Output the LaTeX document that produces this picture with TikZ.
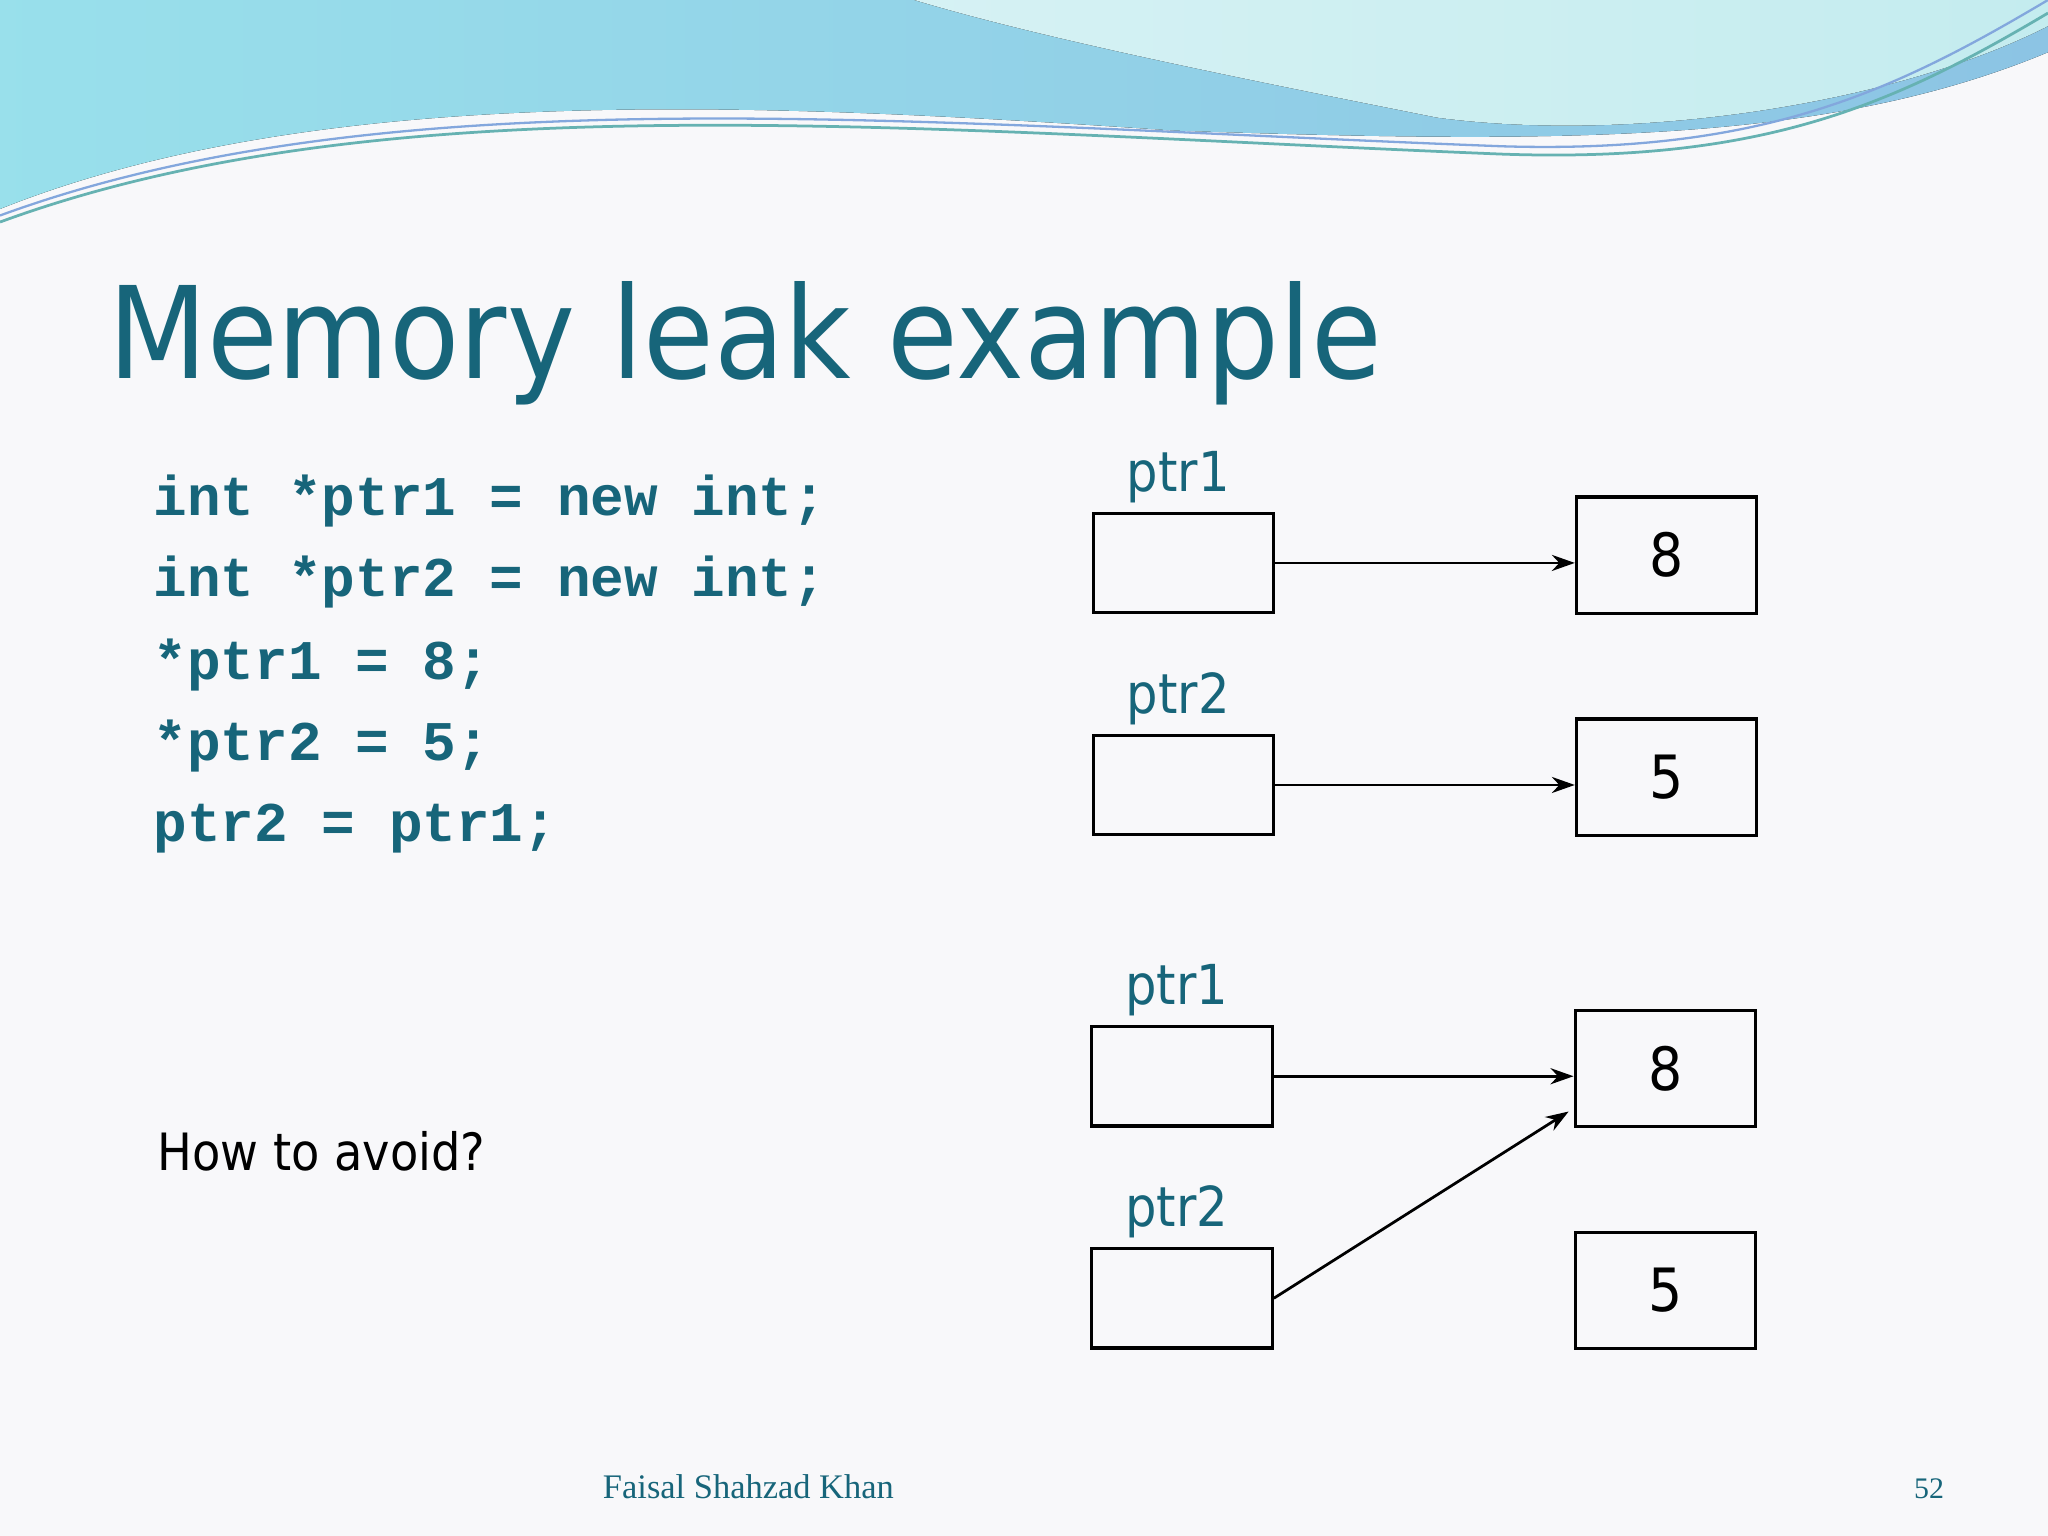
\documentclass[tikz,border=0pt]{standalone}
\usepackage{fontspec}
\setmainfont{DejaVu Sans Condensed}
\newfontfamily\codefont{Liberation Mono}
\newfontfamily\footfont{Liberation Serif}
\usetikzlibrary{arrows.meta}
\definecolor{teal1}{HTML}{17657A}
\definecolor{bgc}{HTML}{F8F8FA}
\definecolor{waveA}{HTML}{7FD8E6}
\definecolor{waveB}{HTML}{8CC4E4}
\definecolor{waveC}{HTML}{C4ECEF}
\begin{document}
\begin{tikzpicture}[x=0.01cm,y=-0.01cm,
  box/.style={draw,line width=0.7pt,minimum width=1.38cm,minimum height=0.76cm,inner sep=0pt},
  vbox/.style={draw,line width=0.7pt,minimum width=1.38cm,minimum height=0.89cm,inner sep=0pt,font=\fontsize{13}{13}\selectfont},
  lab/.style={text=teal1,font=\fontsize{12}{12}\selectfont,anchor=base west,inner sep=0pt},
  code/.style={text=teal1,font=\codefont\bfseries\fontsize{12.2}{12.2}\selectfont,anchor=base west,inner sep=0pt},
  ptr/.style={-{Stealth[length=5pt,width=3.5pt]},line width=0.6pt}]
\useasboundingbox (0,0) rectangle (1568,1176);
\fill[bgc] (0,0) rectangle (1568,1176);
% top waves
\fill[left color=waveA!80,right color=waveB]
  (0,0) -- (1568,0) -- (1568,40) .. controls (1400,110) and (1200,110) .. (900,100)
  .. controls (600,80) and (250,60) .. (0,160) -- cycle;
\fill[left color=waveC!70,right color=waveC]
  (700,0) -- (1568,0) -- (1568,20) .. controls (1450,80) and (1250,110) .. (1100,90)
  .. controls (950,60) and (800,30) .. (700,0) -- cycle;
\draw[teal!60,line width=0.6pt] (0,170) .. controls (300,60) and (700,100) .. (1150,118)
  .. controls (1350,125) and (1450,80) .. (1568,10);
\draw[cyan!50!blue!50,line width=0.5pt] (0,165) .. controls (300,55) and (700,95) .. (1150,112)
  .. controls (1350,118) and (1450,70) .. (1568,0);
% title
\node[anchor=base west,inner sep=0pt,text=teal1,font=\fontsize{27.8}{27.8}\selectfont] (title) at (82,290) {Memory leak example};
% code
\node[code] (c1) at (117,395) {int *ptr1 = new int;};
\node[code] (c2) at (117,457) {int *ptr2 = new int;};
\node[code] (c3) at (117,520) {*ptr1 = 8;};
\node[code] (c4) at (117,582) {*ptr2 = 5;};
\node[code] (c5) at (117,644) {ptr2 = ptr1;};
\node[anchor=base west,inner sep=0pt,font=\fontsize{11.2}{11.2}\selectfont] (q) at (120,896) {How to avoid?};
% diagram top
\node[lab] (l1) at (862,376) {ptr1};
\node[box] (p1) at (906,431) {};
\node[vbox] (v1) at (1276,425) {8};
\node[lab] (l2) at (862,546) {ptr2};
\node[box] (p2) at (906,601) {};
\node[vbox] (v2) at (1276,595) {5};
\draw[ptr] (p1.east) -- (v1.west|-p1.east);
\draw[ptr] (p2.east) -- (v2.west|-p2.east);
% diagram bottom
\node[lab] (l3) at (861,769) {ptr1};
\node[box] (p3) at (905,824) {};
\node[vbox] (v3) at (1275,818) {8};
\node[lab] (l4) at (861,939) {ptr2};
\node[box] (p4) at (905,994) {};
\node[vbox] (v4) at (1275,988) {5};
\draw[ptr] (p3.east) -- (v3.west|-p3.east);
\coordinate (t4) at (1201,851);
\draw[ptr] (p4.east) -- (t4);
% footer
\node[text=teal1,font=\footfont\fontsize{7.5}{7.5}\selectfont] (f) at (573,1138) {Faisal Shahzad Khan};
\node[text=teal1,font=\footfont\fontsize{6.5}{6.5}\selectfont] (n) at (1477,1140) {52};
\end{tikzpicture}
\end{document}
